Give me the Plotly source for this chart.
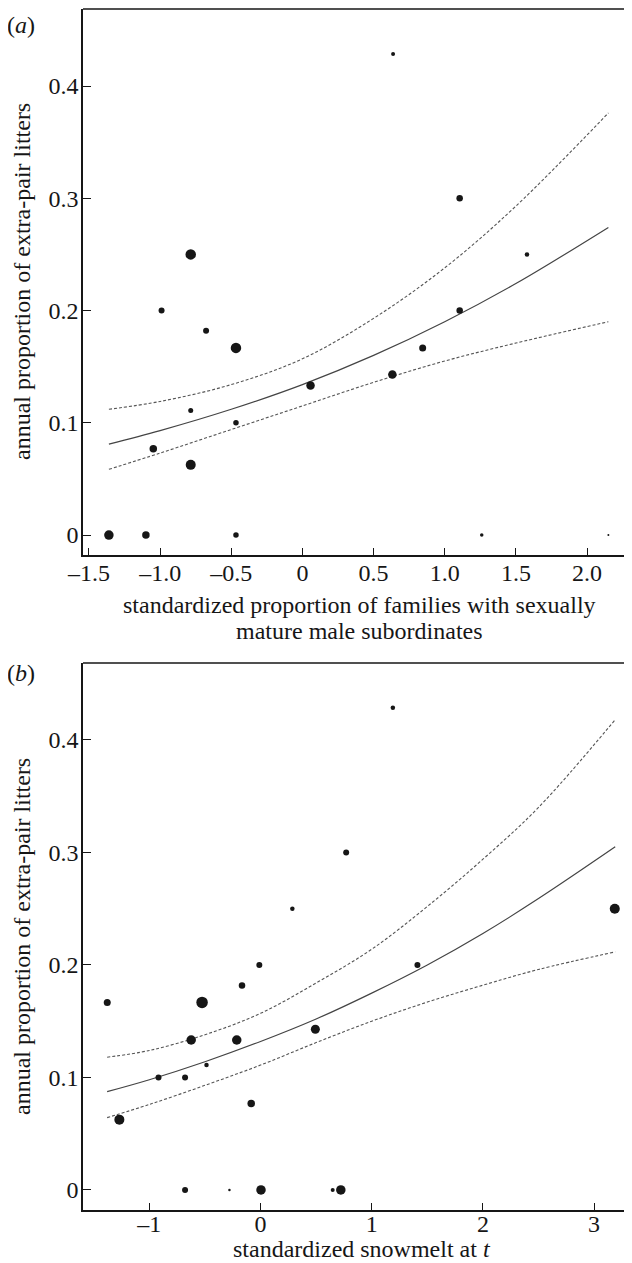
import plotly.graph_objects as go

# ---------------- data: panel (a) ----------------
a_x = [-1.36, -1.10, -0.467, 1.26, 2.15, -0.99, -0.677, -0.467, -0.785, -0.467,
       -1.048, -0.785, 0.057, 0.632, 0.845, 1.105, 0.637, 1.105, -0.785, 1.578]
a_y = [0.0, 0.0, 0.0, 0.0, 0.0, 0.200, 0.182, 0.1667, 0.111, 0.100,
       0.0769, 0.0625, 0.1333, 0.1429, 0.1667, 0.200, 0.4286, 0.300, 0.250, 0.250]
a_size = [9.5, 7.5, 5.5, 3.5, 2, 6, 6, 10.5, 5, 5.5,
          7.5, 10, 8.5, 8.5, 7, 6.5, 4, 6.5, 10.5, 4.5]

a_fit_x = [-1.36, -1.0, -0.5, 0.0, 0.5, 1.0, 1.5, 2.15]
a_fit = [0.081, 0.093, 0.112, 0.134, 0.160, 0.190, 0.224, 0.274]
a_upper = [0.112, 0.119, 0.134, 0.157, 0.193, 0.238, 0.293, 0.376]
a_lower = [0.0585, 0.073, 0.094, 0.115, 0.136, 0.155, 0.171, 0.190]

a_xticks = [-1.5, -1.0, -0.5, 0.0, 0.5, 1.0, 1.5, 2.0]
a_xlabels = ["\u20131.5", "\u20131.0", "\u20130.5", "0", "0.5", "1.0", "1.5", "2.0"]

# ---------------- data: panel (b) ----------------
b_x = [-1.379, -1.27, -0.918, -0.679, -0.486, -0.624, -0.526, -0.214, -0.167, -0.011,
       -0.084, 0.493, 1.411, -0.679, -0.28, 0.004, 0.649, 0.722, 1.19, 0.77, 0.286, 3.186]
b_y = [0.1667, 0.0625, 0.100, 0.100, 0.111, 0.1333, 0.1667, 0.1333, 0.1818, 0.200,
       0.0769, 0.1429, 0.200, 0.0, 0.0, 0.0, 0.0, 0.0, 0.4286, 0.300, 0.250, 0.250]
b_size = [7, 10, 6, 6, 4.5, 9.5, 11.5, 9.5, 6.5, 6,
          7.5, 9, 6, 6, 2.5, 9.5, 4, 9.5, 4.5, 6, 4.5, 10]

b_fit_x = [-1.38, -1.0, -0.5, 0.0, 0.5, 1.0, 1.5, 2.0, 2.5, 3.19]
b_fit = [0.0874, 0.098, 0.114, 0.132, 0.152, 0.175, 0.200, 0.228, 0.259, 0.305]
b_upper = [0.118, 0.124, 0.138, 0.157, 0.184, 0.214, 0.252, 0.294, 0.340, 0.418]
b_lower = [0.0643, 0.076, 0.093, 0.111, 0.131, 0.150, 0.167, 0.182, 0.196, 0.2116]

b_xticks = [-1, 0, 1, 2, 3]
b_xlabels = ["\u20131", "0", "1", "2", "3"]

y_ticks = [0.0, 0.1, 0.2, 0.3, 0.4]
y_labels = ["0", "0.1", "0.2", "0.3", "0.4"]

y_title = "annual proportion of extra-pair litters"
a_xtitle_1 = "standardized proportion of families with sexually"
a_xtitle_2 = "mature male subordinates"
b_xtitle = "standardized snowmelt at <i>t</i>"

# ---------------- figure ----------------
# the page body has an 8px margin, so the figure is sized/offset to compensate
OFF = 8
PAGE_W, PAGE_H = 632, 1263
W, H = PAGE_W - OFF, PAGE_H - OFF
FONT = "Liberation Serif"
INK = "#161616"

def fx_(px):
    return (px - OFF) / W

def fy_(py):
    return 1 - (py - OFF) / H

fig = go.Figure()

def add_panel(xs, ys, sizes, fx, fit, up, lo, xa, ya):
    for arr, dash, w, col in [(up, "3px,2px", 1.1, "#555555"),
                              (lo, "3px,2px", 1.1, "#555555"),
                              (fit, "solid", 1.2, "#444444")]:
        fig.add_trace(go.Scatter(x=fx, y=arr, mode="lines", xaxis=xa, yaxis=ya,
                                 line=dict(color=col, width=w, dash=dash, shape="spline"),
                                 hoverinfo="skip", showlegend=False))
    fig.add_trace(go.Scatter(x=xs, y=ys, mode="markers", xaxis=xa, yaxis=ya,
                             marker=dict(color=INK, size=sizes, opacity=1, line=dict(width=0)),
                             showlegend=False))

add_panel(a_x, a_y, a_size, a_fit_x, a_fit, a_upper, a_lower, "x", "y")
add_panel(b_x, b_y, b_size, b_fit_x, b_fit, b_upper, b_lower, "x2", "y2")

xdom = [fx_(83), 1.0]
ydom_a = [fy_(555), fy_(9)]
ydom_b = [fy_(1210), fy_(663)]

axis_common = dict(showgrid=False, zeroline=False, showline=True, linecolor=INK,
                   linewidth=1.6, ticks="inside", tickcolor=INK, tickwidth=1.4,
                   tickfont=dict(family=FONT, size=24, color=INK), automargin=False)

fig.update_layout(
    width=W, height=H,
    margin=dict(l=0, r=0, t=0, b=0),
    paper_bgcolor="white", plot_bgcolor="white",
    font=dict(family=FONT, size=24, color=INK),
    xaxis=dict(domain=xdom, anchor="y", range=[-1.542, 2.316], tickvals=a_xticks,
               ticktext=a_xlabels, ticklen=7, ticklabelstandoff=-5, **axis_common),
    yaxis=dict(domain=ydom_a, anchor="x", range=[-0.0178, 0.4686], tickvals=y_ticks,
               ticktext=y_labels, ticklen=8, ticklabelstandoff=-2, **axis_common),
    xaxis2=dict(domain=xdom, anchor="y2", range=[-1.597, 3.341], tickvals=b_xticks,
                ticktext=b_xlabels, ticklen=7, ticklabelstandoff=-9, **axis_common),
    yaxis2=dict(domain=ydom_b, anchor="x2", range=[-0.0178, 0.4684], tickvals=y_ticks,
                ticktext=y_labels, ticklen=8, ticklabelstandoff=-2, **axis_common),
)

# top border lines of each panel
for xr, yr in [("x domain", "y domain"), ("x2 domain", "y2 domain")]:
    fig.add_shape(type="line", xref=xr, yref=yr, x0=0, x1=1, y0=1, y1=1,
                  line=dict(color=INK, width=1.6))

def ann(text, x, y, angle=0):
    fig.add_annotation(text=text, x=fx_(x), y=fy_(y), xref="paper", yref="paper",
                       showarrow=False, textangle=angle, xanchor="center", yanchor="middle",
                       borderpad=0, font=dict(family=FONT, size=24, color=INK))

ann("(<i>a</i>)", 21, 25)
ann("(<i>b</i>)", 21, 673)
ann(y_title, 22, 282, -90)
ann(y_title, 22, 937, -90)
ann(a_xtitle_1, 359, 605)
ann(a_xtitle_2, 359, 631)
ann(b_xtitle, 362, 1249)

fig.write_html("out.html")
